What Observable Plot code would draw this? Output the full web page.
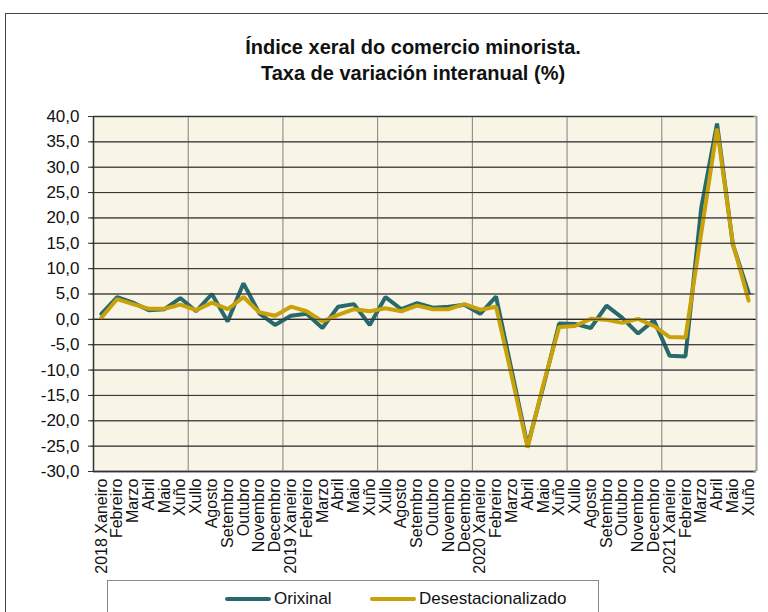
<!DOCTYPE html>
<html>
<head>
<meta charset="utf-8">
<script src="https://cdn.jsdelivr.net/npm/d3@7"></script>
<script src="https://cdn.jsdelivr.net/npm/@observablehq/plot@0.6"></script>
<style>
  html, body { margin: 0; padding: 0; background: #fff; }
  #wrap { position: relative; width: 768px; height: 612px; overflow: hidden; font-family: "Liberation Sans", Arial, sans-serif; }
  #outer { position: absolute; left: 5px; top: 13px; width: 900px; height: 800px; border-left: 1px solid #444; border-top: 1px solid #444; }
  #title { position: absolute; left: 213px; width: 400px; top: 34px; text-align: center; font-weight: bold; font-size: 20px; line-height: 26px; color: #111; }
  #chart { position: absolute; left: 0; top: 0; }
  #legend { position: absolute; left: 107px; top: 580px; width: 490px; height: 60px; border: 1px solid #8a8a8a; background: #fff; }
  .item { position: absolute; top: 8px; font-size: 17px; color: #111; display: flex; align-items: center; }
  .sw { display: inline-block; width: 46px; height: 4px; border-radius: 2px; margin-right: 3px; }
</style>
</head>
<body>
<div id="wrap">
  <div id="outer"></div>
  <div id="chart"></div>
  <div id="title">Índice xeral do comercio minorista.<br>Taxa de variación interanual (%)</div>
  <div id="legend"></div>
</div>
<script>
const months = [
  "2018 Xaneiro","Febreiro","Marzo","Abril","Maio","Xuño","Xullo","Agosto","Setembro","Outubro","Novembro","Decembro",
  "2019 Xaneiro","Febreiro","Marzo","Abril","Maio","Xuño","Xullo","Agosto","Setembro","Outubro","Novembro","Decembro",
  "2020 Xaneiro","Febreiro","Marzo","Abril","Maio","Xuño","Xullo","Agosto","Setembro","Outubro","Novembro","Decembro",
  "2021 Xaneiro","Febreiro","Marzo","Abril","Maio","Xuño"
];
const orixinal = [
  1.1, 4.4, 3.3, 1.8, 2.0, 4.2, 1.6, 5.0, -0.4, 7.1, 1.2, -1.1,
  0.7, 1.1, -1.7, 2.5, 3.0, -1.1, 4.4, 2.0, 3.2, 2.3, 2.5, 2.9,
  1.1, 4.5, -10.2, -24.9, -13.2, -0.8, -0.9, -1.7, 2.7, 0.3, -2.8, -0.2,
  -7.2, -7.3, 22.0, 38.6, 14.8, 5.2
];
const desestacionalizado = [
  0.3, 4.0, 3.0, 2.1, 2.1, 2.9, 1.8, 3.3, 2.0, 4.4, 1.4, 0.7,
  2.5, 1.6, -0.4, 0.9, 2.0, 1.6, 2.2, 1.6, 2.7, 2.0, 2.0, 3.0,
  1.9, 2.5, -11.3, -25.3, -12.8, -1.5, -1.3, 0.1, -0.1, -0.7, 0.1, -1.3,
  -3.5, -3.6, 17.0, 37.6, 15.0, 3.7
];
const seriesNames = ["Orixinal", "Desestacionalizado"];
const seriesColors = ["#276a6d", "#c9a108"];
const yTicks = [40, 35, 30, 25, 20, 15, 10, 5, 0, -5, -10, -15, -20, -25, -30];

const fmt = d => d.toFixed(1).replace(".", ",");
const idx = months.map((m, i) => i);
const xDomain = [-0.5, months.length - 0.5];
const yDomain = [d3.min(yTicks), d3.max(yTicks)];
const halfYearBounds = idx.filter(i => i % 6 === 5 && i < months.length - 1).map(i => i + 0.5);
const innerGrid = yTicks.filter(t => t !== 0 && t !== yDomain[0] && t !== yDomain[1]);

const chart = Plot.plot({
  width: 768,
  height: 612,
  marginLeft: 93,
  marginRight: 12,
  marginTop: 116,
  marginBottom: 141,
  style: { fontFamily: "'Liberation Sans', Arial, sans-serif", background: "transparent", color: "#111" },
  x: { domain: xDomain, axis: null },
  y: { domain: yDomain, axis: null },
  marks: [
    Plot.frame({ fill: "#f8f4e6", stroke: null }),
    Plot.ruleY(innerGrid, { stroke: "#707070", strokeWidth: 1 }),
    Plot.ruleX(halfYearBounds, { stroke: "#808080", strokeWidth: 1 }),
    Plot.ruleY([0], { stroke: "#000", strokeWidth: 1.2 }),
    Plot.line(orixinal, { x: (d, i) => i, y: d => d, stroke: seriesColors[0], strokeWidth: 4, strokeLinejoin: "miter" }),
    Plot.line(desestacionalizado, { x: (d, i) => i, y: d => d, stroke: seriesColors[1], strokeWidth: 4, strokeLinejoin: "miter" }),
    Plot.ruleY([yDomain[1]], { stroke: "#a0a0a0", strokeWidth: 2 }),
    Plot.ruleX([xDomain[1]], { stroke: "#a0a0a0", strokeWidth: 2 }),
    Plot.ruleY([yDomain[0]], { stroke: "#8a8a8a", strokeWidth: 2.5 }),
    Plot.ruleX([xDomain[0]], { stroke: "#333", strokeWidth: 1.5 }),
    Plot.tickY(yTicks, { y: d => d, frameAnchor: "left", dx: -2.5, stroke: "#333", strokeWidth: 1, inset: 0, x: null }),
    Plot.axisY({ ticks: yTicks, tickFormat: fmt, tickSize: 5, tickPadding: 9, fontSize: 17, stroke: "#333" }),
    Plot.text(months, { x: (d, i) => i, frameAnchor: "bottom", rotate: -90, textAnchor: "end", lineAnchor: "middle", dy: 7, fontSize: 16, fill: "#111" })
  ]
});
document.getElementById("chart").appendChild(chart);

const legend = document.getElementById("legend");
const legendX = [117, 262];
seriesNames.forEach((name, i) => {
  const it = document.createElement("div");
  it.className = "item";
  it.style.left = legendX[i] + "px";
  it.innerHTML = `<span class="sw" style="background:${seriesColors[i]}"></span>${name}`;
  legend.appendChild(it);
});
</script>
</body>
</html>
